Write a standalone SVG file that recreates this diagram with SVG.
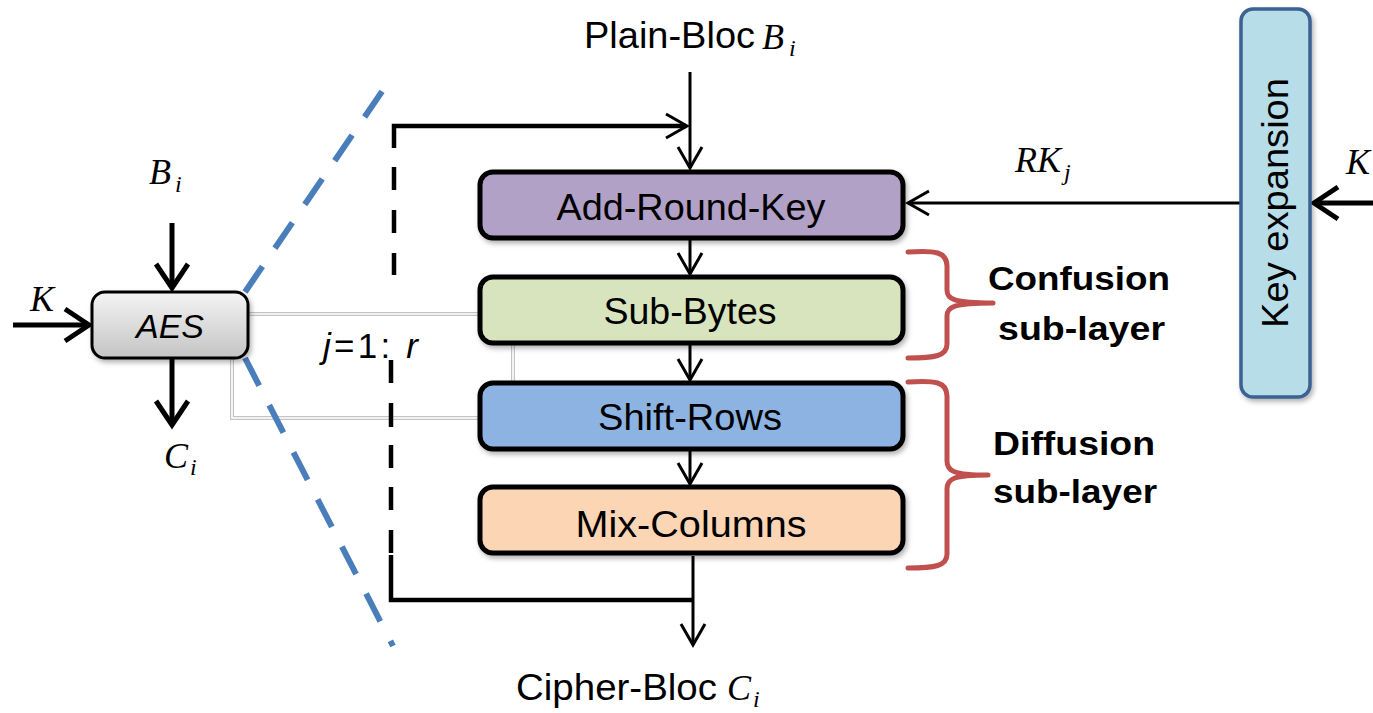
<svg xmlns="http://www.w3.org/2000/svg" width="1373" height="713" viewBox="0 0 1373 713">
<style>
.sans{font-family:"Liberation Sans",Arial,sans-serif;fill:#000}
.math{font-family:"Liberation Serif","Times New Roman",serif;font-style:italic;fill:#000}
.box{stroke:#000;stroke-width:5}
.lbl{font-size:37px;text-anchor:middle}
.bold{font-family:"Liberation Sans",Arial,sans-serif;font-weight:bold;font-size:33px;fill:#000}
.thin{fill:none;stroke:#000;stroke-width:3}
.thick{fill:none;stroke:#000;stroke-width:5}
.loop{fill:none;stroke:#000;stroke-width:4.5}
.blue{fill:none;stroke:#4a7ebb;stroke-width:6;stroke-dasharray:31 22}
.brace{fill:none;stroke:#c0504d;stroke-width:5;stroke-linejoin:round;stroke-linecap:round}
.dbl{fill:none;stroke:#c4c4c4;stroke-width:4}
.dblin{fill:none;stroke:#fff;stroke-width:1.6}
</style>
<defs>
<marker id="ah" markerUnits="userSpaceOnUse" viewBox="-30 -20 34 40" refX="0" refY="0" markerWidth="34" markerHeight="40" orient="auto" overflow="visible">
<path d="M-21,-12 L0,0 L-21,12" fill="none" stroke="#000" stroke-width="3"/>
</marker>
<marker id="ahk" markerUnits="userSpaceOnUse" viewBox="-34 -22 38 44" refX="0" refY="0" markerWidth="38" markerHeight="44" orient="auto" overflow="visible">
<path d="M-24,-16 L0,0 L-24,16" fill="none" stroke="#000" stroke-width="5"/>
</marker>
<linearGradient id="aesg" x1="0" y1="0" x2="0" y2="1">
<stop offset="0" stop-color="#f4f4f4"/>
<stop offset="1" stop-color="#c4c4c4"/>
</linearGradient>
<filter id="sh" x="-10%" y="-20%" width="125%" height="150%">
<feDropShadow dx="2" dy="3" stdDeviation="2.5" flood-color="#000" flood-opacity="0.3"/>
</filter>
</defs>

<g id="connectors">
<path class="dbl" d="M249,314 L478,314"/>
<path class="dblin" d="M249,314 L478,314"/>
<path class="dbl" d="M232,359 L232,418 L478,418"/>
<path class="dblin" d="M232,359 L232,418 L478,418"/>
<path class="dbl" d="M513,345 L513,383"/>
<path class="dblin" d="M513,345 L513,383"/>

<path class="blue" d="M245,292 L383,90"/>
<path class="blue" d="M245,358 L393,646"/>

<path class="thick" d="M172,223 L172,288" marker-end="url(#ahk)"/>
<path class="thick" d="M13,325 L89,325" marker-end="url(#ahk)"/>
<path class="thick" d="M172,359 L172,425" marker-end="url(#ahk)"/>

<path class="thin" d="M690,72 L690,168" marker-end="url(#ah)"/>
<path class="thin" d="M690,240 L690,274" marker-end="url(#ah)"/>
<path class="thin" d="M690,345 L690,380" marker-end="url(#ah)"/>
<path class="thin" d="M690,451 L690,484" marker-end="url(#ah)"/>
<path class="thin" d="M693,556 L693,645" marker-end="url(#ah)"/>

<path class="loop" d="M394,148 L394,126 L686,126"/>
<path class="thin" d="M660,126 L687,126" marker-end="url(#ah)"/>
<path class="loop" d="M394,167 L394,190 M394,210 L394,233 M394,253 L394,275 M391,360 L391,383 M391,403 L391,427 M391,445 L391,468 M391,487 L391,510 M391,530 L391,553"/>
<path class="loop" d="M391,555 L391,600 L693,600"/>

<path class="thin" d="M1241,203 L908,203" marker-end="url(#ah)"/>
<path class="thick" d="M1373,203 L1314,203" marker-end="url(#ahk)"/>

<path class="brace" d="M908,252 C935,250 947,252 947,266 L947,290 C947,299 953,303 993,303 C953,303 947,307 947,316 L947,344 C947,356 935,358 908,358"/>
<path class="brace" d="M908,382 C935,380 947,382 947,396 L947,461 C947,471 953,475 988,475 C953,475 947,479 947,489 L947,554 C947,566 935,568 908,568"/>
</g>

<g id="aes">
<rect x="92" y="292" width="156" height="66" rx="13" fill="url(#aesg)" stroke="#000" stroke-width="3" filter="url(#sh)"/>
<text class="sans" x="170" y="338" font-size="34" font-style="italic" text-anchor="middle">AES</text>
</g>

<g id="aes-io">
<text class="math" x="149" y="184" font-size="36">B</text>
<text class="math" x="175" y="192" font-size="24">i</text>
<text class="math" x="30" y="311" font-size="36">K</text>
<text class="math" x="164" y="468" font-size="36">C</text>
<text class="math" x="190" y="475" font-size="24">i</text>
</g>

<g id="plain-bloc">
<text class="sans" x="584" y="48" font-size="36" textLength="171" lengthAdjust="spacingAndGlyphs">Plain-Bloc</text>
<text class="math" x="762" y="49" font-size="36">B</text>
<text class="math" x="789" y="56" font-size="24">i</text>
</g>

<g id="cipher-bloc">
<text class="sans" x="516" y="700" font-size="36" textLength="201" lengthAdjust="spacingAndGlyphs">Cipher-Bloc</text>
<text class="math" x="727" y="700" font-size="36">C</text>
<text class="math" x="753" y="707" font-size="24">i</text>
</g>

<g id="loop-label">
<text class="sans" x="323" y="358" font-size="35" textLength="95" lengthAdjust="spacing"><tspan font-style="italic">j</tspan>=1: <tspan font-style="italic">r</tspan></text>
</g>

<g id="add-round-key">
<rect class="box" x="480" y="172" width="423" height="66" rx="13" fill="#b2a1c7" filter="url(#sh)"/>
<text class="sans lbl" x="691" y="220" textLength="269" lengthAdjust="spacingAndGlyphs">Add-Round-Key</text>
</g>

<g id="sub-bytes">
<rect class="box" x="480" y="277" width="423" height="66" rx="13" fill="#d7e4bd" filter="url(#sh)"/>
<text class="sans lbl" x="690" y="324" textLength="173" lengthAdjust="spacingAndGlyphs">Sub-Bytes</text>
</g>

<g id="shift-rows">
<rect class="box" x="480" y="383" width="423" height="66" rx="13" fill="#8db3e2" filter="url(#sh)"/>
<text class="sans lbl" x="690" y="430" textLength="184" lengthAdjust="spacingAndGlyphs">Shift-Rows</text>
</g>

<g id="mix-columns">
<rect class="box" x="480" y="487" width="423" height="66" rx="13" fill="#fcd5b5" filter="url(#sh)"/>
<text class="sans lbl" x="691" y="537" textLength="231" lengthAdjust="spacingAndGlyphs">Mix-Columns</text>
</g>

<g id="key-expansion">
<rect x="1241" y="9" width="69" height="388" rx="12" fill="#b7dee8" stroke="#3b6291" stroke-width="3.5" filter="url(#sh)"/>
<text class="sans" transform="translate(1288,203) rotate(-90)" font-size="36" text-anchor="middle" textLength="250" lengthAdjust="spacingAndGlyphs">Key expansion</text>
</g>

<g id="round-key-label">
<text class="math" x="1015" y="172" font-size="36">RK</text>
<text class="math" x="1064" y="180" font-size="24">j</text>
</g>

<g id="master-key-label">
<text class="math" x="1346" y="174" font-size="36">K</text>
</g>

<g id="confusion">
<text class="bold" x="988" y="290" textLength="182" lengthAdjust="spacingAndGlyphs">Confusion</text>
<text class="bold" x="998" y="340" textLength="167" lengthAdjust="spacingAndGlyphs">sub-layer</text>
</g>

<g id="diffusion">
<text class="bold" x="993" y="455" textLength="162" lengthAdjust="spacingAndGlyphs">Diffusion</text>
<text class="bold" x="993" y="503" textLength="164" lengthAdjust="spacingAndGlyphs">sub-layer</text>
</g>
</svg>
